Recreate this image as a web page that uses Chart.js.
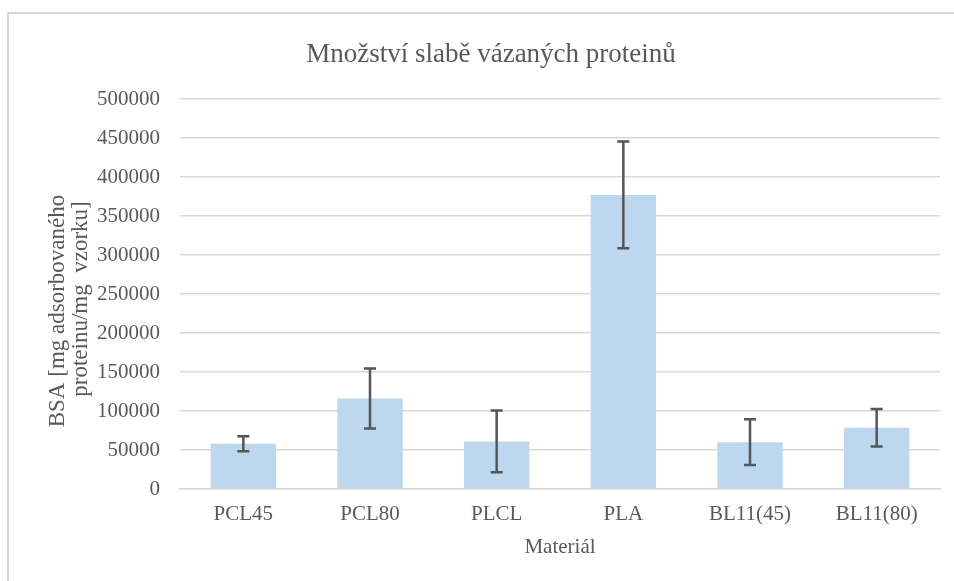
<!DOCTYPE html>
<html lang="cs">
<head>
<meta charset="utf-8">
<title>Množství slabě vázaných proteinů</title>
<script src="https://cdn.jsdelivr.net/npm/chart.js@4.4.1/dist/chart.umd.min.js"></script>
<style>
  html, body { margin: 0; padding: 0; background: #ffffff; }
  #wrap { width: 954px; height: 581px; position: relative; }
</style>
</head>
<body>
<div id="wrap"><canvas id="chart" width="954" height="581"></canvas></div>
<script>
// Materials on the x axis
const categories = ['PCL45', 'PCL80', 'PLCL', 'PLA', 'BL11(45)', 'BL11(80)'];
// Mean amount of weakly bound BSA
const means = [58000, 116000, 61000, 377000, 60000, 78500];
// Standard deviations drawn as error bars
const errors = [9500, 38500, 39500, 68500, 29300, 24000];
// Value axis range
const yMin = 0;
const yMax = 500000;
const yStep = 50000;

const chartTitle = 'Množství slabě vázaných proteinů';
const xTitle = 'Materiál';
const yTitleLines = ['BSA [mg adsorbovaného', 'proteinu/mg  vzorku]'];

const SERIF = "'Liberation Serif', 'Times New Roman', serif";
const TEXT = '#595959';
const GRID = '#d9d9d9';

// White page with the light frame along the top and left edges
const framePlugin = {
  id: 'frame',
  beforeDraw(chart) {
    const ctx = chart.ctx;
    ctx.save();
    ctx.fillStyle = '#ffffff';
    ctx.fillRect(0, 0, chart.width, chart.height);
    ctx.strokeStyle = GRID;
    ctx.lineWidth = 2;
    ctx.beginPath();
    ctx.moveTo(8, chart.height);
    ctx.lineTo(8, 13);
    ctx.lineTo(chart.width, 13);
    ctx.stroke();
    ctx.restore();
  }
};

// Error bars: mean ± error, positioned through the y scale
const errorBarPlugin = {
  id: 'errorBars',
  afterDatasetsDraw(chart) {
    const ctx = chart.ctx;
    const yScale = chart.scales.y;
    const meta = chart.getDatasetMeta(0);
    ctx.save();
    ctx.strokeStyle = '#555555';
    ctx.lineWidth = 2.5;
    meta.data.forEach((bar, i) => {
      const x = bar.x;
      const top = yScale.getPixelForValue(means[i] + errors[i]);
      const bottom = yScale.getPixelForValue(means[i] - errors[i]);
      const cap = 6;
      ctx.beginPath();
      ctx.moveTo(x, top);
      ctx.lineTo(x, bottom);
      ctx.moveTo(x - cap, top);
      ctx.lineTo(x + cap, top);
      ctx.moveTo(x - cap, bottom);
      ctx.lineTo(x + cap, bottom);
      ctx.stroke();
    });
    ctx.restore();
  }
};

// Chart title and axis titles
const titlesPlugin = {
  id: 'titles',
  afterDraw(chart) {
    const ctx = chart.ctx;
    const area = chart.chartArea;
    ctx.save();
    ctx.fillStyle = TEXT;
    ctx.textAlign = 'center';
    ctx.textBaseline = 'alphabetic';
    ctx.font = '27px ' + SERIF;
    ctx.fillText(chartTitle, 491, 62);
    ctx.font = '21px ' + SERIF;
    ctx.fillText(xTitle, (area.left + area.right) / 2, 553);
    ctx.font = '23px ' + SERIF;
    ctx.textBaseline = 'middle';
    const centers = [[58, 311], [81, 299]];
    yTitleLines.forEach((line, i) => {
      ctx.save();
      ctx.translate(centers[i][0], centers[i][1]);
      ctx.rotate(-Math.PI / 2);
      ctx.fillText(line, 0, 0);
      ctx.restore();
    });
    ctx.restore();
  }
};

new Chart(document.getElementById('chart'), {
  type: 'bar',
  data: {
    labels: categories,
    datasets: [{
      data: means,
      backgroundColor: '#BDD7EE',
      borderWidth: 0,
      barPercentage: 0.516,
      categoryPercentage: 1
    }]
  },
  options: {
    responsive: false,
    animation: false,
    devicePixelRatio: 1,
    layout: { padding: { left: 0, top: 99, right: 14, bottom: 0 } },
    plugins: {
      legend: { display: false },
      title: { display: false },
      tooltip: { enabled: false }
    },
    scales: {
      x: {
        grid: { display: false, drawTicks: false },
        border: { display: true, color: GRID, width: 1.5 },
        ticks: {
          color: TEXT,
          font: { family: SERIF, size: 21 },
          padding: 13,
          maxRotation: 0,
          autoSkip: false
        },
        afterFit(scale) { scale.height = 92; }
      },
      y: {
        min: yMin,
        max: yMax,
        grid: { color: GRID, lineWidth: 1.5, drawTicks: false },
        border: { display: false },
        ticks: {
          stepSize: yStep,
          color: TEXT,
          font: { family: SERIF, size: 21 },
          padding: 20,
          callback: (v) => String(v)
        },
        afterFit(scale) { scale.width = 180; }
      }
    }
  },
  plugins: [framePlugin, errorBarPlugin, titlesPlugin]
});
</script>
</body>
</html>
